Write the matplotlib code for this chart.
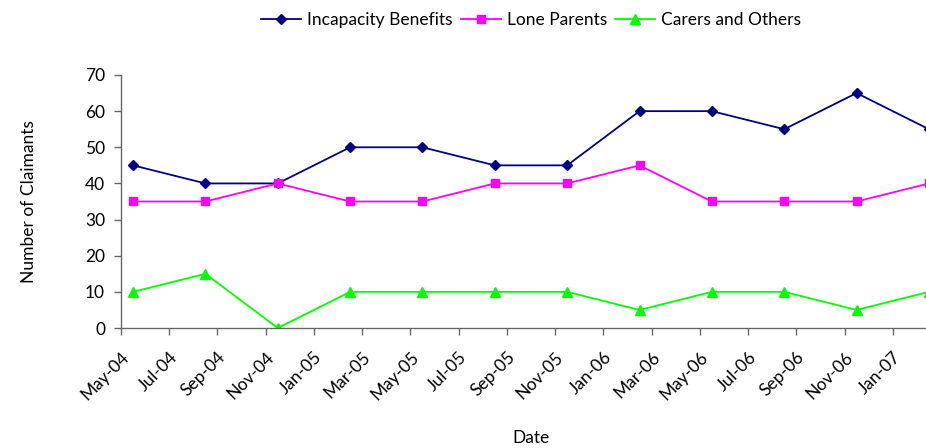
import matplotlib
matplotlib.use("Agg")
import matplotlib.pyplot as plt

plt.rcParams['font.family'] = ['Lato', 'DejaVu Sans']

# Quarterly claimant counts
dates = ["May-04", "Aug-04", "Nov-04", "Feb-05", "May-05", "Aug-05",
         "Nov-05", "Feb-06", "May-06", "Aug-06", "Nov-06", "Feb-07"]
incapacity = [45, 40, 40, 50, 50, 45, 45, 60, 60, 55, 65, 55]
lone_parents = [35, 35, 40, 35, 35, 40, 40, 45, 35, 35, 35, 40]
carers = [10, 15, 0, 10, 10, 10, 10, 5, 10, 10, 5, 10]

tick_labels = ["May-04", "Jul-04", "Sep-04", "Nov-04", "Jan-05", "Mar-05",
               "May-05", "Jul-05", "Sep-05", "Nov-05", "Jan-06", "Mar-06",
               "May-06", "Jul-06", "Sep-06", "Nov-06", "Jan-07"]

MONTHS = ["Jan", "Feb", "Mar", "Apr", "May", "Jun",
          "Jul", "Aug", "Sep", "Oct", "Nov", "Dec"]


def month_index(label):
    """Months elapsed since May 2004 for a 'Mon-YY' label."""
    mon, yy = label.split("-")
    return (int(yy) - 4) * 12 + MONTHS.index(mon) - 4


# points sit in the middle of their month
x = [month_index(d) + 0.5 for d in dates]
tick_pos = [month_index(t) for t in tick_labels]

FS = 12.5

fig = plt.figure(figsize=(9.26, 4.48), dpi=100)
ax = fig.add_axes([121 / 926, 120 / 448, (941 - 121) / 926, (328 - 75) / 448])

ax.plot(x, incapacity, color="#000080", marker="D", markersize=5.2, lw=1.3,
        label="Incapacity Benefits")
ax.plot(x, lone_parents, color="#FF00FF", marker="s", markersize=5.6, lw=1.3,
        label="Lone Parents")
ax.plot(x, carers, color="#00FF00", marker="^", markersize=7.5, lw=1.3,
        label="Carers and Others")

ax.set_xlim(0, 34)
ax.set_ylim(0, 70)
ax.set_yticks(range(0, 71, 10))
ax.set_xticks(tick_pos)
ax.set_xticklabels(tick_labels, rotation=45, ha="right", rotation_mode="anchor")

for side in ("top", "right"):
    ax.spines[side].set_visible(False)
for side in ("left", "bottom"):
    ax.spines[side].set_color("#666666")
    ax.spines[side].set_linewidth(1.0)

ax.tick_params(axis="both", direction="out", length=5, width=1.0,
               color="#666666", labelsize=FS, labelcolor="black")
ax.tick_params(axis="y", pad=6.5)
ax.tick_params(axis="x", pad=10)

ax.set_ylabel("Number of Claimants", fontsize=FS)
ax.yaxis.set_label_coords(-0.1024, 0.5)
ax.set_xlabel("Date", fontsize=FS, va="top")
ax.xaxis.set_label_coords(0.5, -0.405)

fig.legend(loc="center", bbox_to_anchor=(531 / 926, 1 - 20 / 448), ncol=3,
           frameon=False, fontsize=FS, handlelength=2.3, handletextpad=0.35,
           columnspacing=0.45, borderpad=0.0)

fig.savefig("out.png", dpi=100)
